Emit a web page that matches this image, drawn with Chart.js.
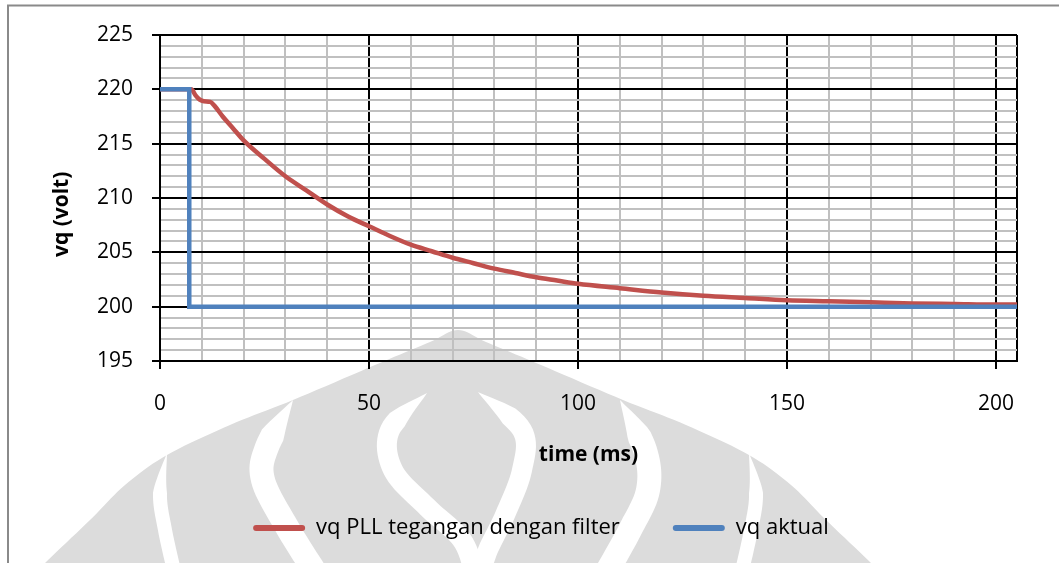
<!DOCTYPE html>
<html lang="id">
<head>
<meta charset="UTF-8">
<title>vq PLL</title>
<style>
  body { margin: 0; background: #fff; }
  #wrap { width: 1059px; height: 563px; }
</style>
</head>
<body>
<div id="wrap"><canvas id="myChart"></canvas></div>

<script src="https://cdn.jsdelivr.net/npm/chart.js"></script>
<script>
// vq PLL tegangan dengan filter (ms, volt)
const redTime = [0, 7.5, 8.5, 9.5, 10.5, 12, 13, 15, 17.5, 20, 25, 30, 35, 40, 45, 50, 55, 60, 65, 70,
                 75, 80, 85, 90, 95, 100, 110, 120, 130, 140, 150, 160, 170, 180, 190, 200, 205];
const redVolt = [220, 220, 219.45, 219.05, 218.9, 218.85, 218.5, 217.5, 216.4, 215.3, 213.6, 212.0, 210.7, 209.4, 208.3, 207.4, 206.5, 205.7, 205.1, 204.5,
                 204.0, 203.5, 203.1, 202.7, 202.4, 202.1, 201.7, 201.3, 201.0, 200.8, 200.6, 200.5, 200.4, 200.3, 200.25, 200.2, 200.2];

// vq aktual (step)
const blueTime = [0, 7, 7, 205];
const blueVolt = [220, 220, 200, 200];

const xLabels = [0, 50, 100, 150, 200];
const yLabels = [195, 200, 205, 210, 215, 220, 225];
const X_MAX = 205;

const FONT = 'Open Sans';

function toPoints(xs, ys) {
    let pts = [];
    for (let i = 0; i < xs.length; i++) {
        pts.push({ x: xs[i], y: ys[i] });
    }
    return pts;
}

// background logo (light grey) + frame
const logoEdge = [[30, 580], [45, 563], [90, 520], [125, 485], [167, 455], [230, 425], [293, 400], [375, 365], [430, 342], [458, 330],
                  [486, 342], [541, 365], [623, 400], [686, 425], [749, 455], [791, 485], [826, 520], [871, 563], [886, 580]];
const logoGaps = [
    { w: 14, pts: [[167, 453], [160, 493], [165, 530], [175, 575]] },
    { w: 24, pts: [[293, 400], [267, 447], [263, 480], [287, 527], [317, 575]] },
    { w: 20, pts: [[427, 393], [390, 430], [393, 470], [427, 507], [462, 540], [475, 575]] },
    { w: 20, pts: [[478, 392], [522, 430], [522, 470], [505, 515], [488, 550], [480, 575]] },
    { w: 24, pts: [[620, 400], [645, 450], [648, 490], [630, 530], [605, 575]] },
    { w: 14, pts: [[749, 453], [756, 493], [751, 530], [741, 575]] }
];

function smooth(pts, n) {
    let out = [];
    for (let i = 0; i < pts.length - 1; i++) {
        const p0 = pts[Math.max(i - 1, 0)], p1 = pts[i], p2 = pts[i + 1], p3 = pts[Math.min(i + 2, pts.length - 1)];
        for (let k = 0; k < n; k++) {
            const t = k / n, t2 = t * t, t3 = t2 * t;
            const f = (j) => 0.5 * (2 * p1[j] + (p2[j] - p0[j]) * t + (2 * p0[j] - 5 * p1[j] + 4 * p2[j] - p3[j]) * t2 + (3 * p1[j] - p0[j] - 3 * p2[j] + p3[j]) * t3);
            out.push([f(0), f(1)]);
        }
    }
    out.push(pts[pts.length - 1]);
    return out;
}

function ribbon(ctx, pts, w) {
    const c = smooth(pts, 12);
    let left = [], right = [], s = 0;
    for (let i = 0; i < c.length; i++) {
        const a = c[Math.max(i - 1, 0)], b = c[Math.min(i + 1, c.length - 1)];
        if (i > 0) s += Math.hypot(c[i][0] - c[i - 1][0], c[i][1] - c[i - 1][1]);
        const len = Math.hypot(b[0] - a[0], b[1] - a[1]) || 1;
        const nx = -(b[1] - a[1]) / len, ny = (b[0] - a[0]) / len;
        const hw = w / 2 * Math.min(1, s / 40);
        left.push([c[i][0] + nx * hw, c[i][1] + ny * hw]);
        right.push([c[i][0] - nx * hw, c[i][1] - ny * hw]);
    }
    ctx.beginPath();
    left.forEach((p, i) => i ? ctx.lineTo(p[0], p[1]) : ctx.moveTo(p[0], p[1]));
    right.reverse().forEach(p => ctx.lineTo(p[0], p[1]));
    ctx.closePath();
    ctx.fill();
}

const backdrop = {
    id: 'backdrop',
    beforeDraw(chart) {
        const ctx = chart.ctx;
        ctx.save();
        ctx.fillStyle = '#dcdcdc';
        const e = smooth(logoEdge, 10);
        ctx.beginPath();
        e.forEach((p, i) => i ? ctx.lineTo(p[0], p[1]) : ctx.moveTo(p[0], p[1]));
        ctx.closePath();
        ctx.fill();
        ctx.fillStyle = '#fff';
        logoGaps.forEach(g => ribbon(ctx, g.pts, g.w));

        ctx.strokeStyle = '#8a8a8a';
        ctx.lineWidth = 2;
        ctx.beginPath();
        ctx.moveTo(8, 563);
        ctx.lineTo(8, 5.5);
        ctx.lineTo(1059, 5.5);
        ctx.stroke();
        ctx.restore();
    }
};

const ctx = document.getElementById('myChart');

let v_chart = new Chart(ctx, {
    type: 'line',
    data: {
        datasets: [{
            label: 'vq PLL tegangan dengan filter',
            data: toPoints(redTime, redVolt),
            borderColor: '#C0504D',
            backgroundColor: '#C0504D',
            borderWidth: 4.5,
            pointRadius: 0,
            cubicInterpolationMode: 'monotone',
            borderCapStyle: 'round',
            order: 1
        }, {
            label: 'vq aktual',
            data: toPoints(blueTime, blueVolt),
            borderColor: '#4F81BD',
            backgroundColor: '#4F81BD',
            borderWidth: 4.5,
            pointRadius: 0,
            tension: 0,
            borderJoinStyle: 'miter',
            order: 0
        }]
    },
    options: {
        responsive: true,
        maintainAspectRatio: false,
        animation: false,
        layout: { padding: { left: 65, right: 42, top: 35, bottom: 14 } },
        plugins: {
            tooltip: { enabled: false },
            legend: {
                position: 'bottom',
                labels: {
                    font: { family: FONT, size: 22 },
                    color: '#000',
                    boxWidth: 52,
                    boxHeight: 6,
                    padding: 53,
                    useBorderRadius: true,
                    borderRadius: 3,
                    sort: (a, b) => a.datasetIndex - b.datasetIndex,
                    generateLabels: (chart) => {
                        let items = Chart.defaults.plugins.legend.labels.generateLabels(chart);
                        items.forEach(it => { it.lineWidth = 0; });
                        return items;
                    }
                }
            }
        },
        scales: {
            x: {
                type: 'linear',
                min: 0,
                max: X_MAX,
                afterFit: (scale) => { scale.height = 103; },
                // minor lines every 10 ms, plus the right edge
                afterBuildTicks: (scale) => {
                    let t = [];
                    for (let v = 0; v <= 200; v += 10) t.push({ value: v });
                    t.push({ value: X_MAX });
                    scale.ticks = t;
                },
                ticks: {
                    autoSkip: false,
                    maxRotation: 0,
                    padding: 22,
                    color: '#000',
                    font: { family: FONT, size: 21 },
                    callback: (v) => xLabels.includes(v) ? v : ''
                },
                grid: {
                    color: (c) => (xLabels.includes(c.tick.value) || c.tick.value === X_MAX) ? '#000' : '#c0c0c0',
                    lineWidth: 2,
                    tickLength: 8,
                    tickWidth: 2,
                    tickColor: (c) => xLabels.includes(c.tick.value) ? '#000' : 'rgba(0,0,0,0)'
                },
                border: { color: '#000', width: 2 },
                title: {
                    display: true,
                    text: 'time (ms)',
                    color: '#000',
                    font: { family: FONT, size: 21, weight: 'bold' },
                    padding: { top: 0, bottom: -4 }
                }
            },
            y: {
                min: 195,
                max: 225,
                afterFit: (scale) => { scale.width = 95; },
                ticks: {
                    stepSize: 1,
                    autoSkip: false,
                    padding: 19,
                    color: '#000',
                    font: { family: FONT, size: 21 },
                    callback: (v) => yLabels.includes(v) ? v : ''
                },
                grid: {
                    color: (c) => yLabels.includes(c.tick.value) ? '#000' : '#c0c0c0',
                    lineWidth: 2,
                    tickLength: 8,
                    tickWidth: 2,
                    tickColor: (c) => yLabels.includes(c.tick.value) ? '#000' : 'rgba(0,0,0,0)'
                },
                border: { color: '#000', width: 2 },
                title: {
                    display: true,
                    text: 'vq (volt)      ',
                    color: '#000',
                    font: { family: FONT, size: 21, weight: 'bold' },
                    padding: { top: -16, bottom: 0 }
                }
            }
        }
    },
    plugins: [backdrop]
});
</script>
</body>
</html>
